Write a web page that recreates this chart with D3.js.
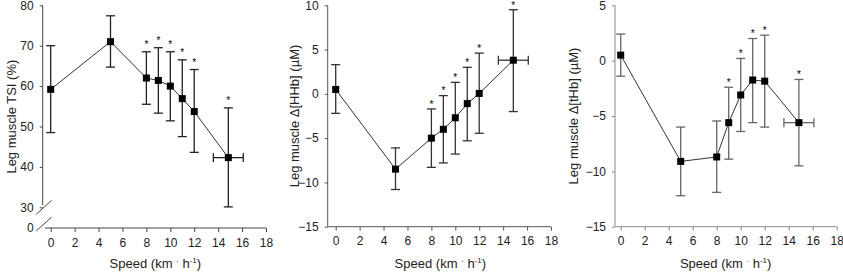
<!DOCTYPE html>
<html>
<head>
<meta charset="utf-8">
<script src="https://cdn.jsdelivr.net/npm/d3@7"></script>
<style>
  body { margin: 0; background: #fff; }
  svg { display: block; font-family: "Liberation Sans", Arial, sans-serif; }
</style>
</head>
<body>
<div id="chart"></div>
<script>
// running speeds (km/h), last stage is the individual max speed
const speeds = [0, 5, 8, 9, 10, 11, 12, 14.85];
const speedErr = [0, 0, 0, 0, 0, 0, 0, 1.25];
const xTicks = [0, 2, 4, 6, 8, 10, 12, 14, 16, 18];

// panel A - TSI (%)
const tsiMean = [59.2, 71.0, 62.0, 61.4, 60.0, 56.9, 53.7, 42.3];
const tsiUpper = [70.0, 77.4, 68.5, 69.5, 68.5, 66.5, 64.1, 54.6];
const tsiLower = [48.5, 64.7, 55.5, 53.3, 51.4, 47.5, 43.6, 30.1];
const tsiStar = [false, false, true, true, true, true, true, true];
const tsiTicks = [0, 30, 40, 50, 60, 70, 80];

// panel B - delta HHb (uM)
const hhbMean = [0.5, -8.5, -5.0, -4.0, -2.7, -1.1, 0.05, 3.8];
const hhbUpper = [3.3, -6.1, -1.7, -0.2, 1.3, 3.0, 4.6, 9.5];
const hhbLower = [-2.2, -10.8, -8.3, -7.8, -6.8, -5.3, -4.45, -2.0];
const hhbStar = [false, false, true, true, true, true, true, true];
const hhbTicks = [-15, -10, -5, 0, 5, 10];

// panel C - delta tHb (uM)
const thbMean = [0.5, -9.1, -8.7, -5.6, -3.1, -1.75, -1.85, -5.6];
const thbUpper = [2.4, -6.0, -5.45, -2.4, 0.2, 2.0, 2.3, -1.7];
const thbLower = [-1.4, -12.2, -11.9, -8.9, -6.4, -5.6, -6.0, -9.5];
const thbStar = [false, false, false, true, true, true, true, true];
const thbTicks = [-15, -10, -5, 0, 5];

const W = 843, H = 273;
const svg = d3.select('#chart').append('svg').attr('width', W).attr('height', H);

const panels = [
  {
    axisX: 42.7, x0: 50.7, x18: 266, labelX: 11,
    yDomain: [0, 30, 80], yRange: [228, 207.3, 5.3], yTicks: tsiTicks, brk: true,
    mean: tsiMean, up: tsiUpper, lo: tsiLower, star: tsiStar, starGap: 3.5,
    title: 'Leg muscle TSI (%)', axisCol: '#444', barCol: '#222'
  },
  {
    axisX: 327.7, x0: 335.7, x18: 551, labelX: 294,
    yDomain: [-15, 10], yRange: [226.7, 5.3], yTicks: hhbTicks, brk: false,
    mean: hhbMean, up: hhbUpper, lo: hhbLower, star: hhbStar, starGap: 1.2,
    title: 'Leg muscle \u0394[HHb] (\u00b5M)', axisCol: '#555', barCol: '#333'
  },
  {
    axisX: 615, x0: 620.7, x18: 836.7, labelX: 573,
    yDomain: [-15, 5], yRange: [226.7, 5.3], yTicks: thbTicks, brk: false,
    mean: thbMean, up: thbUpper, lo: thbLower, star: thbStar, starGap: 1.5,
    title: 'Leg muscle \u0394[tHb] (\u00b5M)', axisCol: '#888', barCol: '#666'
  }
];

panels.forEach((p) => {
  const g = svg.append('g');
  const x = d3.scaleLinear().domain([0, 18]).range([p.x0, p.x18]);
  const y = d3.scaleLinear().domain(p.yDomain).range(p.yRange);
  const yBottom = p.yRange[0];
  const yTop = p.yRange[p.yRange.length - 1];

  // x axis
  const xAxis = g.append('g')
    .attr('transform', `translate(0, ${yBottom})`)
    .call(d3.axisBottom(x).tickValues(xTicks).tickSize(4).tickPadding(6));
  xAxis.select('.domain').remove();
  xAxis.append('line')
    .attr('x1', p.brk ? p.axisX + 2 : p.axisX).attr('x2', x(18))
    .attr('y1', 0).attr('y2', 0)
    .attr('stroke', p.axisCol);

  // y axis
  const yAxis = g.append('g')
    .attr('transform', `translate(${p.axisX}, 0)`)
    .call(d3.axisLeft(y).tickValues(p.yTicks).tickSize(3).tickPadding(6));
  yAxis.select('.domain').remove();
  yAxis.append('line')
    .attr('x1', 0).attr('x2', 0)
    .attr('y1', yTop).attr('y2', p.brk ? y(30) - 2 : yBottom)
    .attr('stroke', p.axisCol);
  if (p.brk) {
    // axis break between 0 and 30: no tick at 0, two slashes
    yAxis.selectAll('.tick').filter((d) => d === 0).select('line').remove();
    [y(30), yBottom - 4].forEach((yy) => {
      yAxis.append('line')
        .attr('x1', -6.5).attr('x2', 9)
        .attr('y1', yy + 7).attr('y2', yy - 7)
        .attr('stroke', p.axisCol);
    });
  }

  [xAxis, yAxis].forEach((a) => {
    a.selectAll('.tick line').attr('stroke', p.axisCol);
    a.selectAll('.tick text')
      .attr('fill', '#222')
      .style('font-size', '12px')
      .style('font-family', '"Liberation Sans", Arial, sans-serif');
  });

  // axis titles
  const xt = g.append('text')
    .attr('x', (x(0) + x(18)) / 2 - 3)
    .attr('y', 268)
    .attr('text-anchor', 'middle')
    .attr('fill', '#222')
    .style('font-size', '13px');
  xt.append('tspan').text('Speed (km ');
  xt.append('tspan').text('\u00b7').attr('dy', -4).style('font-size', '8px');
  xt.append('tspan').text(' h').attr('dy', 4);
  xt.append('tspan').text('-1').attr('dy', -5).style('font-size', '8px');
  xt.append('tspan').text(')').attr('dy', 5);

  g.append('text')
    .attr('transform', `translate(${p.labelX}, ${(yTop + yBottom) / 2}) rotate(-90)`)
    .attr('dy', '0.35em')
    .attr('text-anchor', 'middle')
    .attr('fill', '#222')
    .style('font-size', '13px')
    .text(p.title);

  const data = speeds.map((s, i) => ({
    s, xe: speedErr[i], m: p.mean[i], up: p.up[i], lo: p.lo[i], star: p.star[i]
  }));

  // connecting line
  g.append('path')
    .datum(data)
    .attr('fill', 'none')
    .attr('stroke', '#333')
    .attr('stroke-width', 1)
    .attr('d', d3.line().x((d) => x(d.s)).y((d) => y(d.m)));

  // vertical error bars
  const cap = 4.5;
  const eb = g.selectAll('.eb').data(data).enter().append('g')
    .attr('stroke', p.barCol).attr('stroke-width', 1.3);
  eb.append('line')
    .attr('x1', (d) => x(d.s)).attr('x2', (d) => x(d.s))
    .attr('y1', (d) => y(d.up)).attr('y2', (d) => y(d.lo));
  eb.append('line')
    .attr('x1', (d) => x(d.s) - cap).attr('x2', (d) => x(d.s) + cap)
    .attr('y1', (d) => y(d.up)).attr('y2', (d) => y(d.up));
  eb.append('line')
    .attr('x1', (d) => x(d.s) - cap).attr('x2', (d) => x(d.s) + cap)
    .attr('y1', (d) => y(d.lo)).attr('y2', (d) => y(d.lo));

  // horizontal error bars
  const hb = g.selectAll('.hb').data(data.filter((d) => d.xe > 0)).enter().append('g')
    .attr('stroke', p.barCol).attr('stroke-width', 1.3);
  hb.append('line')
    .attr('x1', (d) => x(d.s - d.xe)).attr('x2', (d) => x(d.s + d.xe))
    .attr('y1', (d) => y(d.m)).attr('y2', (d) => y(d.m));
  [-1, 1].forEach((sg) => {
    hb.append('line')
      .attr('x1', (d) => x(d.s + sg * d.xe)).attr('x2', (d) => x(d.s + sg * d.xe))
      .attr('y1', (d) => y(d.m) - cap).attr('y2', (d) => y(d.m) + cap);
  });

  // markers
  const ms = 7;
  g.selectAll('.mk').data(data).enter().append('rect')
    .attr('x', (d) => x(d.s) - ms / 2)
    .attr('y', (d) => y(d.m) - ms / 2)
    .attr('width', ms).attr('height', ms)
    .attr('fill', '#000');

  // significance stars
  g.selectAll('.st').data(data.filter((d) => d.star)).enter().append('text')
    .attr('x', (d) => x(d.s))
    .attr('y', (d) => y(d.up) - p.starGap)
    .attr('text-anchor', 'middle')
    .attr('fill', '#000')
    .style('font-size', '10px')
    .text('*');
});
</script>
</body>
</html>
